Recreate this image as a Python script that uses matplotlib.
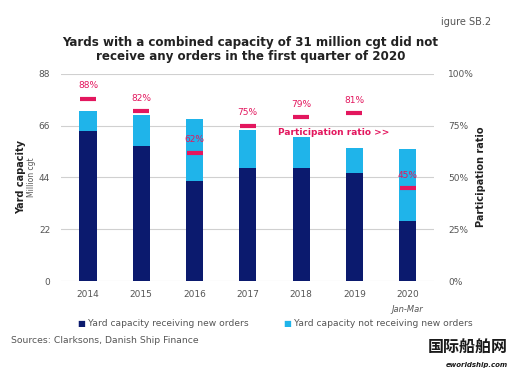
import matplotlib.pyplot as plt
import matplotlib
import numpy as np

matplotlib.rcParams['font.family'] = ['DejaVu Sans', 'Noto Sans CJK SC']

# 数据
years = ['2014', '2015', '2016', '2017', '2018', '2019', '2020']
receiving = [63.8, 57.4, 42.5, 48.0, 48.0, 46.0, 25.5]
not_receiving = [8.5, 13.2, 26.4, 16.3, 13.3, 10.6, 30.7]
ratio = [88, 82, 62, 75, 79, 81, 45]
y_ticks = [0, 22, 44, 66, 88]
r_ticks = [0, 25, 50, 75, 100]

navy = '#0b1a6e'
cyan = '#1fb4ea'
pink = '#e3175e'
grey = '#555555'

fig = plt.figure(figsize=(5.2, 3.69), dpi=100)
ax1 = fig.add_axes([0.118, 0.238, 0.717, 0.562])
x = np.arange(len(years))

ax1.bar(x, receiving, width=0.32, color=navy, zorder=3)
ax1.bar(x, not_receiving, width=0.32, bottom=receiving, color=cyan, zorder=3)
ax1.set_ylim(0, 88)
ax1.set_xlim(-0.5, 6.5)
ax1.set_yticks(y_ticks)
ax1.set_xticks(x)
ax1.set_xticklabels(years)
ax1.grid(axis='y', color='#d0d0d0', linewidth=0.8, zorder=0)
for s in ax1.spines.values():
    s.set_visible(False)
ax1.tick_params(length=0, labelsize=6.5, colors=grey)
ax1.tick_params(axis='y', pad=8)
ax1.tick_params(axis='x', pad=6)

ax2 = ax1.twinx()
ax2.set_ylim(0, 100)
ax2.set_yticks(r_ticks)
ax2.set_yticklabels([f'{t}%' for t in r_ticks])
for s in ax2.spines.values():
    s.set_visible(False)
ax2.tick_params(length=0, labelsize=6.5, colors=grey, pad=10)
ax2.plot(x, ratio, linestyle='none', marker='_', markersize=11, mew=3, color=pink, zorder=4)
for a, b in zip(x, ratio):
    ax2.text(a, b + 4, f'{b}%', ha='center', va='bottom', color=pink, fontsize=6.5)
ax2.text(5.65, 71.5, 'Participation ratio >>', ha='right', va='center', color=pink,
         fontsize=6.5, fontweight='bold')

ax1.text(6, -10, 'Jan-Mar', ha='center', va='top', fontsize=6, style='italic', color=grey)

# 轴标题
fig.text(0.04, 0.52, 'Yard capacity', rotation=90, ha='center', va='center',
         fontsize=7, fontweight='bold', color='#222222')
fig.text(0.061, 0.52, 'Million cgt', rotation=90, ha='center', va='center',
         fontsize=5.5, color=grey)
fig.text(0.925, 0.52, 'Participation ratio', rotation=90, ha='center', va='center',
         fontsize=7, fontweight='bold', color='#222222')

# 标题
fig.text(0.482, 0.866, 'Yards with a combined capacity of 31 million cgt did not\n'
         'receive any orders in the first quarter of 2020', ha='center', va='center',
         fontsize=8.6, fontweight='bold', color='#222222', linespacing=1.1)
fig.text(0.945, 0.94, 'igure SB.2', ha='right', va='center', fontsize=7, color=grey)

# 图例
fig.text(0.157, 0.123, '■', ha='center', va='center', fontsize=6, color=navy)
fig.text(0.169, 0.123, 'Yard capacity receiving new orders', ha='left', va='center',
         fontsize=6.6, color=grey)
fig.text(0.553, 0.123, '■', ha='center', va='center', fontsize=6, color=cyan)
fig.text(0.565, 0.123, 'Yard capacity not receiving new orders', ha='left', va='center',
         fontsize=6.6, color=grey)
fig.text(0.022, 0.078, 'Sources: Clarksons, Danish Ship Finance', ha='left', va='center',
         fontsize=6.7, color=grey)

# 水印
fig.text(0.976, 0.058, '国际船舶网', ha='right', va='center', fontsize=11.5, fontweight='bold',
         color='#1a1a1a', family=['Noto Sans CJK SC'])
fig.text(0.976, 0.012, 'eworldship.com', ha='right', va='center', fontsize=5,
         fontweight='bold', style='italic', color='#1a1a1a')

fig.savefig('out.png', dpi=100)
